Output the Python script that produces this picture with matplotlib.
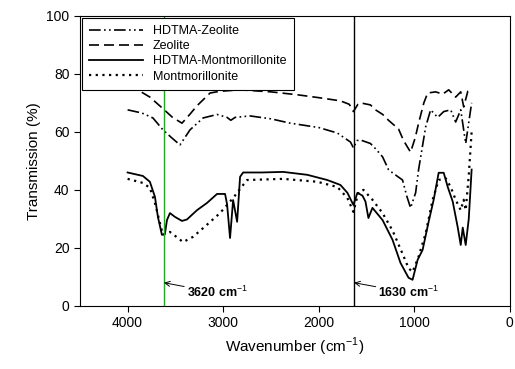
import matplotlib.pyplot as plt

plt.rcParams["font.family"] = ["Liberation Sans", "DejaVu Sans"]
plt.rcParams["mathtext.fontset"] = "custom"
plt.rcParams["mathtext.rm"] = "Liberation Sans"
plt.rcParams["mathtext.bf"] = "Liberation Sans:bold"

# ── Spectra (wavenumber cm-1, transmission %) ─────────────────────────────────
zeo_x = [4000, 3900, 3767, 3630, 3530, 3431, 3350, 3274, 3137, 3033, 2823,
         2500, 2225, 2000, 1773, 1680, 1637, 1590, 1563, 1459, 1406, 1330,
         1270, 1165, 1112, 1039, 990, 955, 900, 860, 776, 703, 640, 567,
         514, 483, 440, 400]
zeo_y = [75.0, 74.6, 72.0, 68.0, 65.0, 63.0, 66.0, 69.0, 73.4, 74.0, 74.5,
         73.8, 72.8, 71.8, 70.7, 69.5, 67.0, 69.5, 70.0, 69.3, 67.6, 66.0,
         64.0, 61.0, 57.0, 53.0, 58.0, 63.0, 70.0, 73.4, 73.8, 73.0, 74.5, 72.0,
         73.8, 68.6, 74.0, 74.5]

hzeo_x = [4000, 3850, 3735, 3630, 3540, 3452, 3347, 3210, 3064, 2960, 2920,
          2875, 2718, 2500, 2298, 2000, 1805, 1668, 1637, 1600, 1563, 1459,
          1400, 1332, 1270, 1228, 1123, 1080, 1039, 986, 955, 881, 829, 755,
          692, 619, 567, 514, 462, 400]
hzeo_y = [67.6, 66.5, 64.8, 60.7, 58.0, 55.5, 60.7, 64.8, 66.0, 65.0, 64.0,
          65.0, 65.5, 64.5, 63.0, 61.5, 59.6, 56.5, 54.5, 57.0, 57.2, 56.0,
          54.0, 51.4, 47.0, 45.9, 43.4, 38.0, 33.8, 39.0, 47.0, 61.7, 67.6, 65.0,
          67.0, 67.6, 63.4, 67.6, 56.0, 70.0]

hmont_x = [4000, 3840, 3767, 3714, 3683, 3641, 3610, 3588, 3557, 3505, 3431,
           3379, 3274, 3169, 3064, 2980, 2959, 2928, 2896, 2854, 2823, 2791,
           2600, 2372, 2120, 1910, 1773, 1700, 1637, 1595, 1542, 1511, 1480,
           1438, 1332, 1228, 1144, 1060, 1018, 965, 913, 850, 797, 745, 692,
           650, 598, 546, 514, 493, 462, 430, 400]
hmont_y = [46.0, 44.8, 42.8, 37.6, 30.7, 24.5, 24.8, 29.6, 32.0, 30.7, 29.3,
           29.8, 33.0, 35.5, 38.6, 38.6, 35.0, 23.4, 36.5, 29.0, 44.5, 46.0,
           46.0, 46.2, 45.2, 43.4, 41.7, 39.0, 34.8, 39.0, 38.0, 36.0, 30.3,
           33.8, 29.6, 22.8, 14.8, 9.7, 9.0, 15.9, 19.3, 29.0, 36.6, 45.9, 45.9,
           41.0, 36.0, 27.2, 21.0, 27.0, 21.0, 30.0, 47.0]

mont_x = [4000, 3840, 3767, 3714, 3662, 3630, 3557, 3473, 3420, 3316, 3169,
          3033, 2896, 2791, 2750, 2372, 2015, 1805, 1700, 1637, 1584, 1532,
          1438, 1332, 1228, 1123, 1060, 1018, 955, 881, 808, 745, 671, 619,
          567, 514, 483, 462, 430, 400]
mont_y = [43.8, 42.4, 40.7, 35.5, 28.6, 24.5, 25.5, 23.4, 22.0, 23.8, 28.0,
          32.0, 37.2, 41.7, 43.4, 43.8, 42.8, 41.0, 37.2, 32.4, 39.3, 40.0,
          36.6, 32.0, 26.0, 18.0, 13.0, 11.7, 17.0, 25.0, 36.6, 43.4, 44.0, 41.0,
          36.6, 33.0, 36.6, 33.0, 45.0, 60.0]

peaks = [3620, 1630]
peak_colors = ["#22aa22", "black"]
peak_text_x = [3379, 1375]

fig, ax = plt.subplots(figsize=(5.15, 3.69), dpi=100)
fig.subplots_adjust(left=0.155, right=0.990, top=0.957, bottom=0.171)

ax.plot(hzeo_x, hzeo_y, c="black", lw=1.2, ls=(0, (7, 2, 1, 2, 1, 2)),
        label="HDTMA-Zeolite")
ax.plot(zeo_x, zeo_y, c="black", lw=1.2, ls=(0, (6, 3)), label="Zeolite")
ax.plot(hmont_x, hmont_y, c="black", lw=1.3, ls="-",
        label="HDTMA-Montmorillonite")
ax.plot(mont_x, mont_y, c="black", lw=1.6, ls=(0, (1, 2)),
        label="Montmorillonite")

for px, col, tx in zip(peaks, peak_colors, peak_text_x):
    ax.axvline(px, c=col, lw=1)
    ax.annotate(f"{px} cm$^{{-1}}$", xy=(px, 8), xytext=(tx, 4.5),
                fontsize=9, fontweight="bold", va="center", ha="left",
                arrowprops=dict(arrowstyle="->", lw=0.7, color="black",
                                shrinkA=0, shrinkB=0))

ax.set_xlim(4500, 0)
ax.set_ylim(0, 100)
ax.set_xticks([4000, 3000, 2000, 1000, 0])
ax.set_yticks([0, 20, 40, 60, 80, 100])
ax.tick_params(direction="out", length=4, labelsize=10, top=False, right=False)
ax.set_xlabel("Wavenumber (cm$^{-1}$)", fontsize=11)
ax.set_ylabel("Transmission (%)", fontsize=11)

leg = ax.legend(loc="upper left", fontsize=9, handlelength=4.3,
                fancybox=False, edgecolor="black", framealpha=1,
                borderaxespad=0.15, borderpad=0.6, labelspacing=0.25)
leg.get_frame().set_linewidth(0.8)

fig.savefig("out.png", dpi=100)
